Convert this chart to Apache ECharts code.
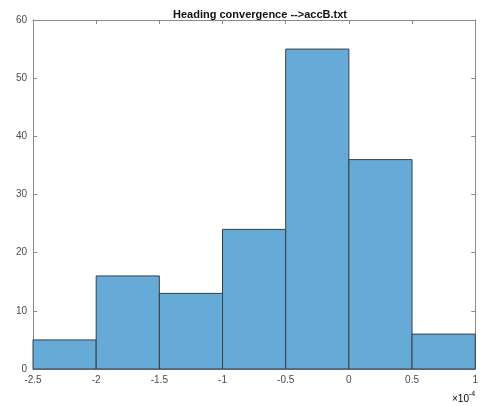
<!DOCTYPE html>
<html><head><meta charset="utf-8">
<script src="https://cdn.jsdelivr.net/npm/echarts@6/dist/echarts.min.js"></script>
<style>html,body{margin:0;padding:0;background:#fff}#c{width:481px;height:406px}</style>
</head><body><div id="c"></div>
<script>
var titleText = 'Heading convergence -->accB.txt';
var binEdges = [-2.5, -2, -1.5, -1, -0.5, 0, 0.5, 1];
var counts = [5, 16, 13, 24, 55, 36, 6];
var yTicks = [0, 10, 20, 30, 40, 50, 60];
var exponentLabel = '-4';

var data = counts.map(function (c, i) { return [binEdges[i], binEdges[i + 1], c]; });
var font = 'Liberation Sans, Arial, sans-serif';
var axisCol = '#8a8a8a';
var labelCol = '#4a4a4a';

function axisBase(extra) {
  var a = {
    type: 'value',
    axisLine: {show: true, onZero: false, lineStyle: {color: axisCol, width: 1}},
    axisTick: {show: true, inside: true, length: 4, lineStyle: {color: axisCol}},
    axisLabel: {color: labelCol, fontFamily: font, fontSize: 10, margin: 6},
    splitLine: {show: false}
  };
  for (var k in extra) a[k] = extra[k];
  return a;
}

var chart = echarts.init(document.getElementById('c'), null, {renderer: 'canvas'});
chart.setOption({
  animation: false,
  backgroundColor: '#fff',
  title: {text: titleText, left: 255, top: 4, textAlign: 'center',
    textStyle: {fontFamily: font, fontSize: 11, fontWeight: 'bold', color: '#111'}},
  grid: {left: 33, right: 5, top: 20, bottom: 37},
  xAxis: [
    axisBase({min: binEdges[0], max: binEdges[binEdges.length - 1], interval: 0.5, position: 'bottom'}),
    axisBase({min: binEdges[0], max: binEdges[binEdges.length - 1], interval: 0.5, position: 'top', axisLabel: {show: false}})
  ],
  yAxis: [
    axisBase({min: yTicks[0], max: yTicks[yTicks.length - 1], interval: 10, position: 'left'}),
    axisBase({min: yTicks[0], max: yTicks[yTicks.length - 1], interval: 10, position: 'right', axisLabel: {show: false}})
  ],
  series: [{
    type: 'custom',
    xAxisIndex: 0, yAxisIndex: 0,
    data: data,
    renderItem: function (params, api) {
      var p0 = api.coord([api.value(0), api.value(2)]);
      var p1 = api.coord([api.value(1), 0]);
      return {
        type: 'rect',
        shape: {x: p0[0], y: p0[1], width: p1[0] - p0[0], height: p1[1] - p0[1]},
        style: {fill: 'rgb(102,170,215)', stroke: '#3a3f44', lineWidth: 1}
      };
    }
  }],
  graphic: [{
    type: 'text', left: 452, top: 391,
    style: {
      text: '{a|×10}{b|' + exponentLabel + '}',
      rich: {
        a: {fontFamily: font, fontSize: 10, color: labelCol, verticalAlign: 'bottom'},
        b: {fontFamily: font, fontSize: 7, color: labelCol, verticalAlign: 'top', padding: [0, 0, 6, 0]}
      }
    }
  }]
});
</script></body></html>
